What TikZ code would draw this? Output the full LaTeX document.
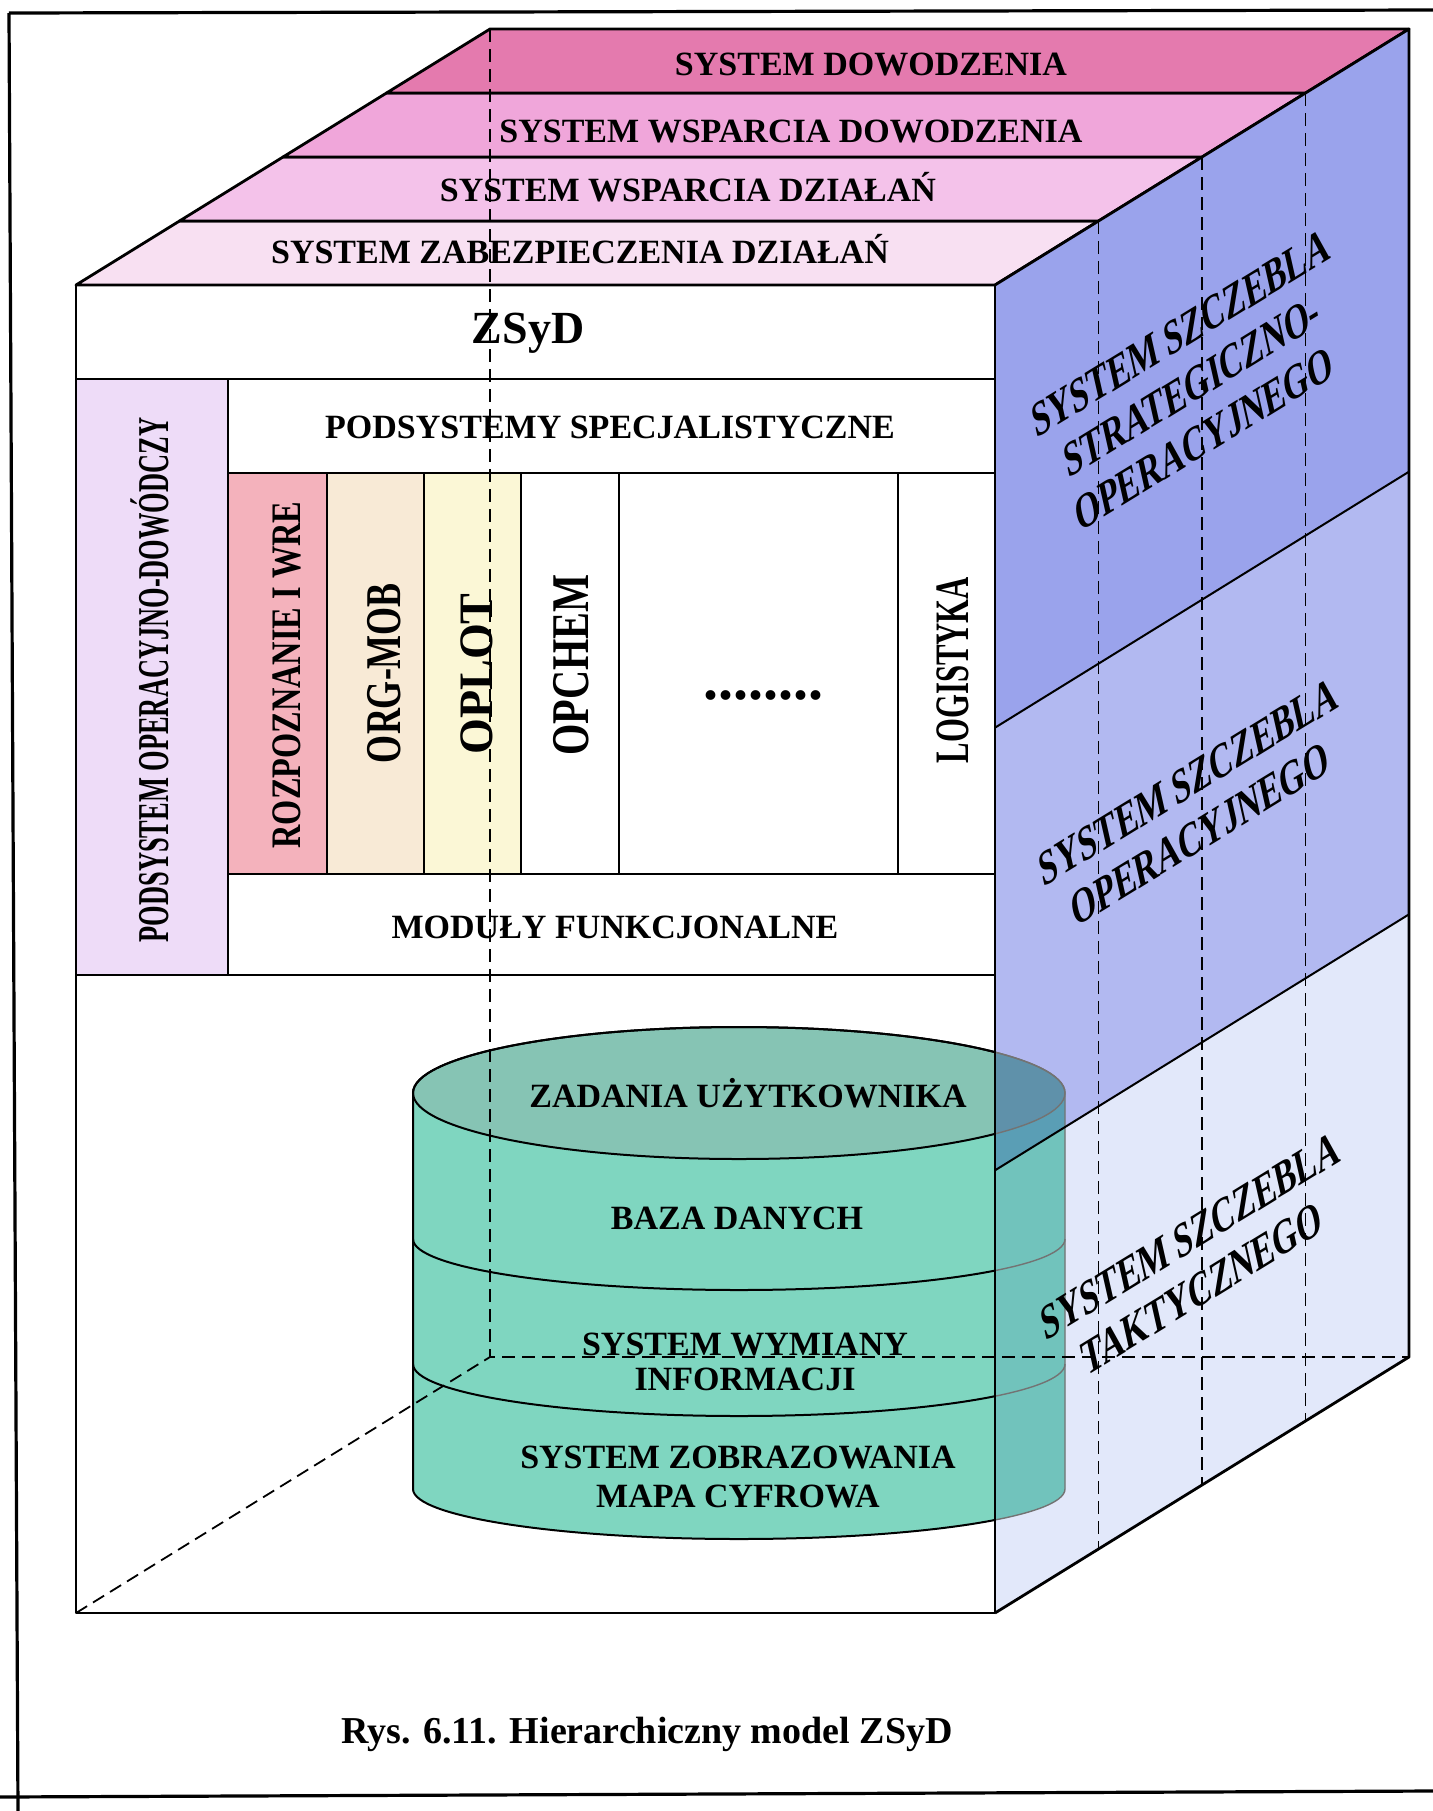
\documentclass[tikz,border=0pt]{standalone}
\usepackage{fontspec}
\usepackage{graphicx}
\setmainfont{Liberation Serif}
\definecolor{pkA}{HTML}{E47AAE}
\definecolor{pkB}{HTML}{F0A6DA}
\definecolor{pkC}{HTML}{F4C2EA}
\definecolor{pkD}{HTML}{F8E0F2}
\definecolor{lavc}{HTML}{EEDCF8}
\definecolor{rozc}{HTML}{F4B2BC}
\definecolor{orgc}{HTML}{F8EAD6}
\definecolor{oplc}{HTML}{FBF7D6}
\definecolor{rfA}{HTML}{9AA3EC}
\definecolor{rfB}{HTML}{B2B9F1}
\definecolor{rfC}{HTML}{E2E8FA}
\definecolor{cyltop}{HTML}{86C4B4}
\definecolor{cylside}{HTML}{7FD6C0}
\definecolor{ovBs}{HTML}{5A9EB5}
\definecolor{ovBt}{HTML}{5F91AA}
\definecolor{ovCs}{HTML}{71C3BC}
\definecolor{ovCt}{HTML}{77B2B0}
\begin{document}
\begin{tikzpicture}[x=0.5pt,y=-0.5pt,
  every node/.style={inner sep=0pt},
  lbl/.style={font=\bfseries\fontsize{17}{20}\selectfont, anchor=base},
  vlbl/.style={rotate=90, anchor=base},
  rtxt/.style={transform shape, align=center, font=\bfseries\fontsize{24}{27}\selectfont},
  sideface/.style={cm={0.634,0.388,-0.22,0.975,(0,0)}},
  edgeln/.style={line width=1.4pt, line join=round},
  gridln/.style={line width=1.2pt},
  bandln/.style={line width=1pt},
  hidden/.style={line width=0.9pt, dash pattern=on 6.5pt off 3.5pt},
  cylsil/.style={insert path={(413,1093) -- (413,1489) arc[start angle=180, end angle=0, x radius=326, y radius=50] -- (1065,1093) arc[start angle=0, end angle=-180, x radius=326, y radius=66] -- cycle}},
  bandB/.style={insert path={(995,727.67) -- (1409,471.67) -- (1409,914.33) -- (995,1170.33) -- cycle}},
  bandC/.style={insert path={(995,1170.33) -- (1409,914.33) -- (1409,1357) -- (995,1613) -- cycle}}]

\fill[white] (0,0) rectangle (1433,1811);
\useasboundingbox (0,0) rectangle (1433,1811);

% page frame
\draw[line width=1.6pt] (9,13) -- (1433,10);
\draw[line width=1.6pt] (9,13) -- (18,1811);
\draw[line width=1.6pt] (0,1797) -- (1433,1791);

% top face stripes
\filldraw[fill=pkD, edgeln] (76,285) -- (995,285) -- (1098.5,221) -- (179.5,221) -- cycle;
\filldraw[fill=pkC, edgeln] (179.5,221) -- (1098.5,221) -- (1202,157) -- (283,157) -- cycle;
\filldraw[fill=pkB, edgeln] (283,157) -- (1202,157) -- (1305.5,93) -- (386.5,93) -- cycle;
\filldraw[fill=pkA, edgeln] (386.5,93) -- (1305.5,93) -- (1409,29) -- (490,29) -- cycle;

% right face bands
\fill[rfA] (995,285) -- (1409,29) -- (1409,471.67) -- (995,727.67) -- cycle;
\fill[rfB, bandB];
\fill[rfC, bandC];

% front face panels
\fill[lavc] (76,379) rectangle (228,975);
\fill[rozc] (228,473) rectangle (327,874);
\fill[orgc] (327,473) rectangle (424,874);
\fill[oplc] (424,473) rectangle (521,874);

% cylinder
\fill[cylside, cylsil];
\fill[cyltop] (739,1093) ellipse[x radius=326, y radius=66];
\begin{scope}
  \clip (995,900) rectangle (1100,1600);
  \clip[cylsil];
  \fill[ovBs, bandB];
  \fill[ovCs, bandC];
  \clip (739,1093) ellipse[x radius=326, y radius=66];
  \fill[ovBt, bandB];
  \fill[ovCt, bandC];
\end{scope}
\begin{scope}
  \clip (0,0) rectangle (995,1811);
  \draw[line width=1pt, cylsil];
  \draw[line width=1pt] (739,1093) ellipse[x radius=326, y radius=66];
  \draw[line width=1pt] (413,1239) arc[start angle=180, end angle=0, x radius=326, y radius=51];
  \draw[line width=1pt] (413,1364) arc[start angle=180, end angle=0, x radius=326, y radius=52];
\end{scope}
\begin{scope}
  \clip (995,0) rectangle (1433,1811);
  \draw[line width=0.7pt, black!55, cylsil];
  \draw[line width=0.7pt, black!55] (739,1093) ellipse[x radius=326, y radius=66];
  \draw[line width=0.7pt, black!55] (413,1239) arc[start angle=180, end angle=0, x radius=326, y radius=51];
  \draw[line width=0.7pt, black!55] (413,1364) arc[start angle=180, end angle=0, x radius=326, y radius=52];
\end{scope}

% front face grid
\draw[gridln] (76,379) -- (995,379);
\draw[gridln] (228,379) -- (228,975);
\draw[gridln] (228,473) -- (995,473);
\draw[gridln] (228,874) -- (995,874);
\draw[gridln] (76,975) -- (995,975);
\foreach \cx in {327,424,521,619,898} \draw[gridln] (\cx,473) -- (\cx,874);
\draw[edgeln] (76,285) rectangle (995,1613);

% right face lines
\draw[bandln] (995,727.67) -- (1409,471.67);
\draw[bandln] (995,1170.33) -- (1409,914.33);
\draw[edgeln] (995,285) -- (1409,29) -- (1409,1357) -- (995,1613);

% hidden edges
\draw[hidden] (490,29) -- (490,1357) -- (1409,1357);
\draw[hidden] (76,1613) -- (490,1357);
\draw[hidden] (1098.5,221) -- (1098.5,1549);
\draw[hidden] (1202,157) -- (1202,1485);
\draw[hidden] (1305.5,93) -- (1305.5,1421);

% top labels
\node[lbl] (sdow) at (871,75) {SYSTEM DOWODZENIA};
\node[lbl] (swdow) at (791,142) {SYSTEM WSPARCIA DOWODZENIA};
\node[lbl] (swdz) at (688,201) {SYSTEM WSPARCIA DZIAŁAŃ};
\node[lbl] (szdz) at (580,263) {SYSTEM ZABEZPIECZENIA DZIAŁAŃ};

% front labels
\node[lbl, font=\bfseries\fontsize{23}{26}\selectfont] (zsyd) at (528,343) {ZSyD};
\node[lbl] (pss) at (610,438) {PODSYSTEMY SPECJALISTYCZNE};
\node[lbl] (modf) at (615,938) {MODUŁY FUNKCJONALNE};
\node[vlbl, font=\bfseries\fontsize{22}{24}\selectfont] (pod) at (168,680) {\scalebox{0.6}[1]{PODSYSTEM OPERACYJNO-DOWÓDCZY}};
\node[vlbl, font=\bfseries\fontsize{21}{24}\selectfont] (roz) at (300,675) {\scalebox{0.77}[1]{ROZPOZNANIE I WRE}};
\node[vlbl, font=\bfseries\fontsize{25}{28}\selectfont] (orgm) at (400,673) {\scalebox{0.72}[1]{ORG-MOB}};
\node[vlbl, font=\bfseries\fontsize{24}{28}\selectfont] (oplot) at (492,674) {\scalebox{0.96}[1]{OPLOT}};
\node[vlbl, font=\bfseries\fontsize{26.5}{28}\selectfont] (opchem) at (588,665) {\scalebox{0.76}[1]{OPCHEM}};
\node[lbl, font=\bfseries\fontsize{30}{32}\selectfont] (dots) at (763,699) {........};
\node[vlbl, font=\bfseries\fontsize{24}{28}\selectfont] (logi) at (968,670) {\scalebox{0.64}[1]{LOGISTYKA}};

% cylinder labels
\node[lbl] (zad) at (748,1107) {ZADANIA UŻYTKOWNIKA};
\node[lbl] (baza) at (737,1229) {BAZA DANYCH};
\node[lbl, anchor=center, align=center, font=\bfseries\fontsize{17}{17.5}\selectfont] (swi) at (745,1362) {SYSTEM WYMIANY\\INFORMACJI};
\node[lbl, anchor=center, align=center, font=\bfseries\fontsize{17}{19.5}\selectfont] (szob) at (738,1477) {SYSTEM ZOBRAZOWANIA\\MAPA CYFROWA};

% right face labels
\begin{scope}[shift={(1192,386)}, sideface]
  \node[rtxt] (sso) at (0,0) {SYSTEM SZCZEBLA\\STRATEGICZNO-\\OPERACYJNEGO};
\end{scope}
\begin{scope}[shift={(1194,808)}, sideface]
  \node[rtxt] (sop) at (0,0) {SYSTEM SZCZEBLA\\OPERACYJNEGO};
\end{scope}
\begin{scope}[shift={(1196,1262)}, sideface]
  \node[rtxt] (stak) at (0,0) {SYSTEM SZCZEBLA\\TAKTYCZNEGO};
\end{scope}

% caption
\node[lbl, font=\bfseries\fontsize{19}{22}\selectfont] (capt) at (647,1743) {Rys. 6.11. Hierarchiczny model ZSyD};
\end{tikzpicture}
\end{document}
